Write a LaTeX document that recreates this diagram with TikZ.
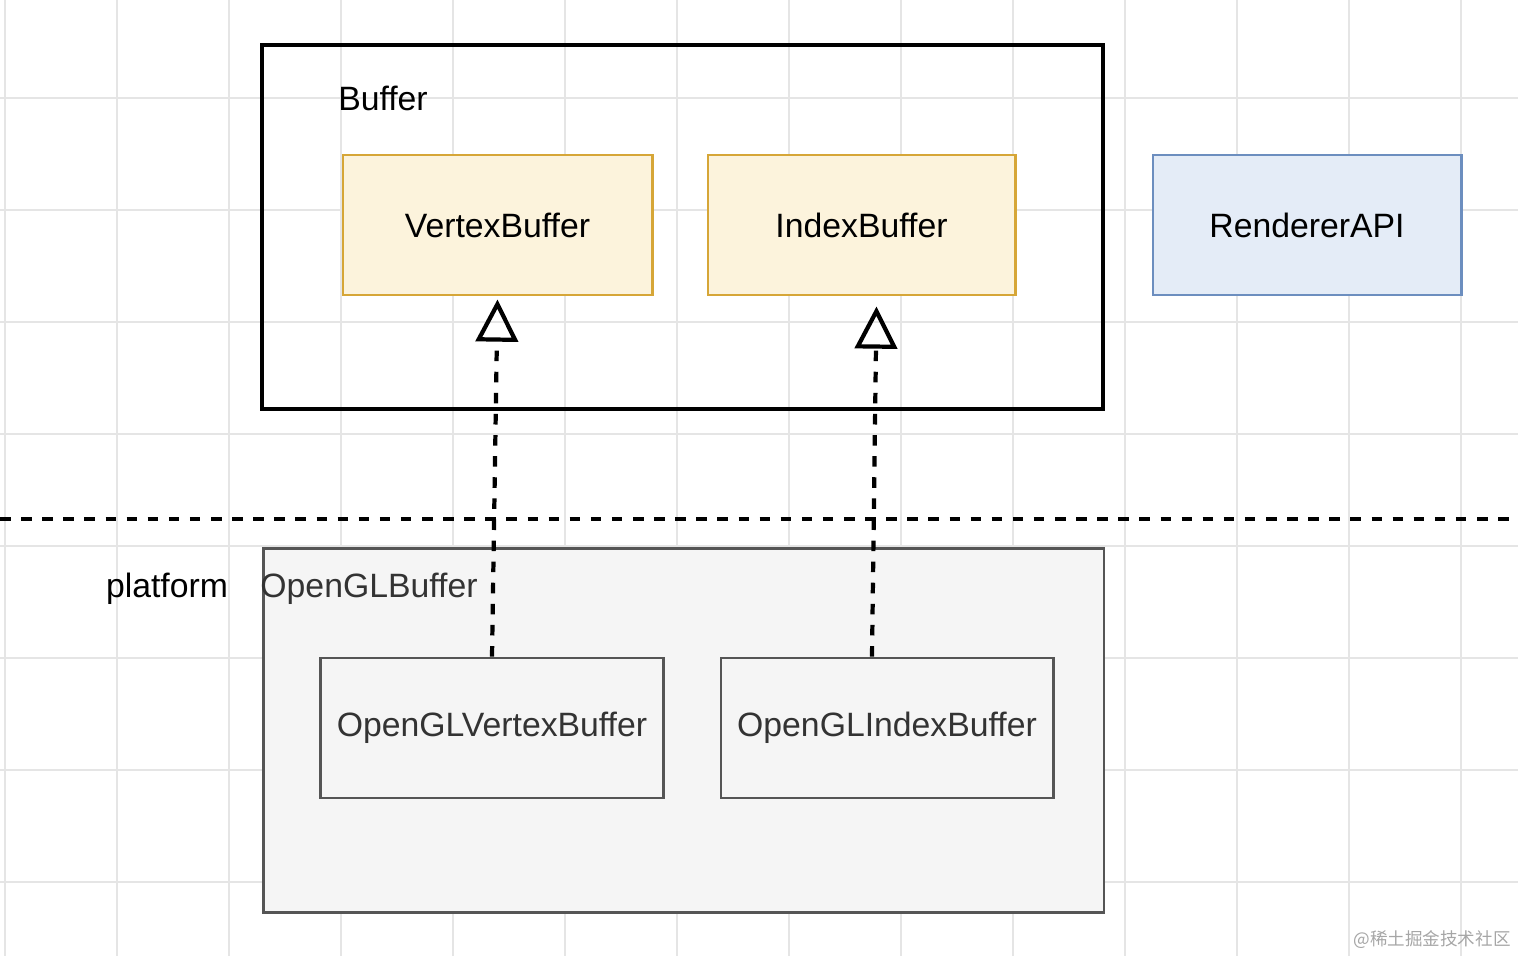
\documentclass[tikz,border=0pt]{standalone}
\usepackage{fontspec}
\setmainfont{Liberation Sans}
\newfontfamily\cjk{Noto Sans CJK SC}
\usetikzlibrary{arrows.meta}
\definecolor{ybord}{HTML}{D6A637}
\definecolor{yfill}{HTML}{FCF3DC}
\definecolor{bbord}{HTML}{6C8EBF}
\definecolor{bfill}{HTML}{E4ECF7}
\definecolor{gbord}{HTML}{555555}
\definecolor{gfill}{HTML}{F5F5F5}
\tikzset{
	box/.style={draw,thick,minimum height=1.4cm,inner sep=0pt},
	yellow box/.style={box,draw=ybord,fill=yfill},
	blue box/.style={box,draw=bbord,fill=bfill},
	grey box/.style={box,draw=gbord,fill=gfill,text=black!80},
	realize/.style={dashed,very thick,-{Triangle[open,length=12pt,width=12pt]}},
	txt/.style={font=\fontsize{9.6}{11}\selectfont}
}
\begin{document}
\begin{tikzpicture}[x=0.01cm,y=-0.01cm,txt]
\useasboundingbox (0,0) rectangle (1518,956);
% grid
\foreach \g in {5,117,...,1518} \draw[black!10] (\g,0) -- (\g,956);
\foreach \g in {98,210,...,956} \draw[black!10] (0,\g) -- (1518,\g);
% abstract layer
\node[draw,very thick,minimum width=8.4cm,minimum height=3.64cm,anchor=north west] (buf) at (260,43) {};
\node (bufl) at (383,98) {Buffer};
\node[yellow box,minimum width=3.09cm] (vb) at (497.5,225) {VertexBuffer};
\node[yellow box,minimum width=3.07cm] (ib) at (861.5,225) {IndexBuffer};
\node[blue box,minimum width=3.08cm] (api) at (1307,225) {RendererAPI};
% separator
\coordinate (sepl) at (0,519);
\coordinate (sepr) at (1518,519);
\draw[dashed,very thick] (sepl) -- (sepr);
% platform layer
\node (plat) at (167,589) {platform};
\node[grey box,minimum width=8.4cm,minimum height=3.64cm,anchor=north west] (glbuf) at (262,547) {};
\node[text=black!80] (glbufl) at (369,589) {OpenGLBuffer};
\node[grey box,minimum width=3.42cm] (glvb) at (492,728) {OpenGLVertexBuffer};
\node[grey box,minimum width=3.32cm] (glib) at (887,728) {OpenGLIndexBuffer};
\draw[realize] (glvb.north) -- ([yshift=-0.03cm]vb.south);
\draw[realize] ([xshift=-0.15cm]glib.north) -- ([xshift=0.15cm,yshift=-0.1cm]ib.south);
\node[text=black!35,font=\cjk\fontsize{5}{6}\selectfont] (wm) at (1432,940) {@稀土掘金技术社区};
\end{tikzpicture}
\end{document}
